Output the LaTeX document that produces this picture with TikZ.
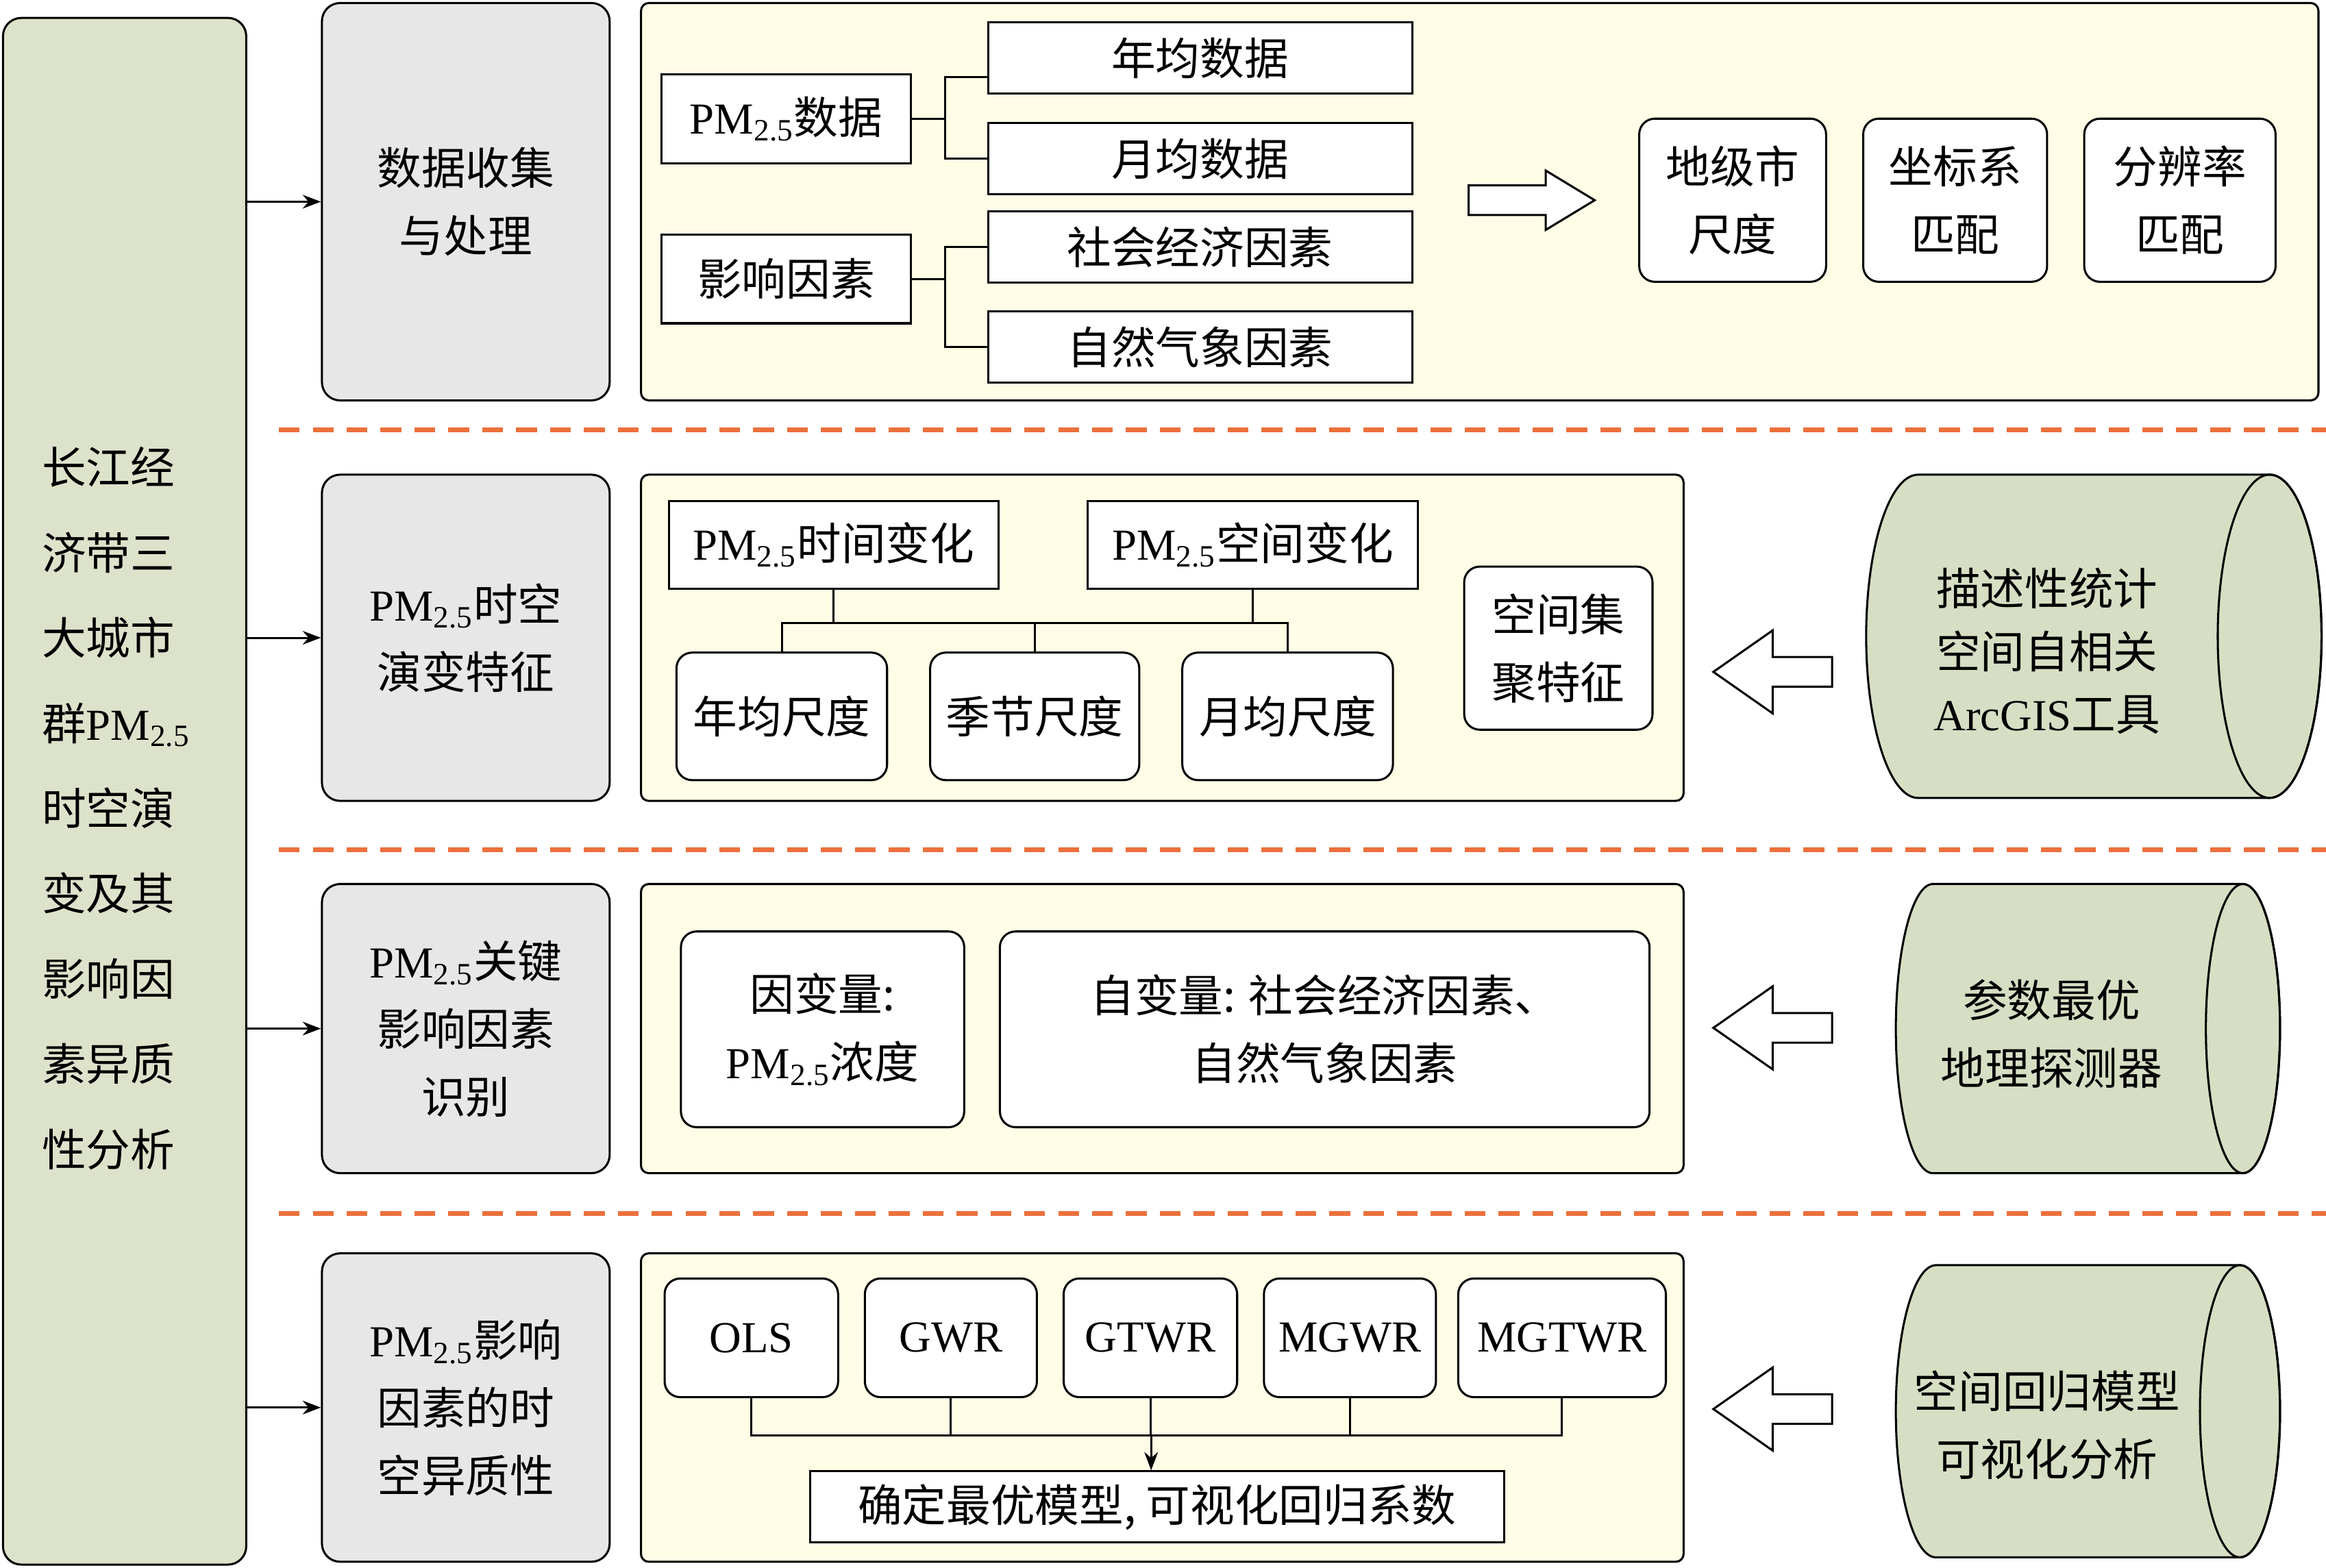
\documentclass[tikz,border=0pt]{standalone}
\usepackage{fontspec}
\setmainfont{Noto Sans CJK SC}
\newfontfamily\lat{Liberation Serif}
\usetikzlibrary{arrows.meta}
\definecolor{leftfill}{RGB}{221,226,203}
\definecolor{grayfill}{RGB}{231,231,231}
\definecolor{panelfill}{RGB}{255,253,230}
\definecolor{cylfill}{RGB}{214,222,196}
\definecolor{dashcol}{RGB}{236,112,60}
\newcommand\PM{{\lat PM\textsubscript{2.5}}}

\tikzset{
  base/.style={draw, line width=0.8pt, inner sep=0pt, align=center,
    font=\fontsize{17}{26}\selectfont},
  gbox/.style={base, fill=grayfill, rounded corners=7pt},
  panel/.style={base, fill=panelfill, rounded corners=3pt},
  sbox/.style={base, fill=white},
  rbox/.style={base, fill=white, rounded corners=6pt},
  sep/.style={dashcol, line width=1.8pt, dash pattern=on 8pt off 5pt},
  hollow/.style={draw, line width=0.8pt, fill=white, line join=miter},
}

\begin{document}
\begin{tikzpicture}[x=0.02cm, y=-0.02cm]
\useasboundingbox (0,0) rectangle (1568,1057);

% left column
\node[gbox, fill=leftfill, minimum width=3.28cm, minimum height=20.86cm] (lb) at (84,533.5) {};
\node[anchor=west, align=left, font=\fontsize{17}{32.7}\selectfont] (lt) at (22,545)
  {长江经\\济带三\\大城市\\群\PM\\时空演\\变及其\\影响因\\素异质\\性分析};

% step boxes
\node[gbox, minimum width=3.88cm, minimum height=5.36cm] (g1) at (314,136) {数据收集\\与处理};
\node[gbox, minimum width=3.88cm, minimum height=4.4cm] (g2) at (314,430) {\PM 时空\\演变特征};
\node[gbox, minimum width=3.88cm, minimum height=3.9cm] (g3) at (314,693.5) {\PM 关键\\影响因素\\识别};
\node[gbox, minimum width=3.88cm, minimum height=4.16cm] (g4) at (314,949) {\PM 影响\\因素的时\\空异质性};

\foreach \g in {g1,g2,g3,g4}
  \draw[-{Stealth[length=7pt]}, line width=0.8pt] (lb.east |- \g.west) -- (\g.west);

% separators
\foreach \yy in {290,573,818}
  \draw[sep] (188,\yy) -- (1568,\yy);

% panels
\node[panel, minimum width=22.62cm, minimum height=5.36cm] (p1) at (997.5,136) {};
\node[panel, minimum width=14.06cm, minimum height=4.4cm] (p2) at (783.5,430) {};
\node[panel, minimum width=14.06cm, minimum height=3.9cm] (p3) at (783.5,693.5) {};
\node[panel, minimum width=14.06cm, minimum height=4.16cm] (p4) at (783.5,949) {};

% panel 1
\node[sbox, minimum width=3.36cm, minimum height=1.2cm] (pm) at (530,80) {\PM 数据};
\node[sbox, minimum width=3.36cm, minimum height=1.2cm] (fac) at (530,188) {影响因素};
\node[sbox, minimum width=5.72cm, minimum height=0.96cm] (d1) at (809,39) {年均数据};
\node[sbox, minimum width=5.72cm, minimum height=0.96cm] (d2) at (809,107) {月均数据};
\node[sbox, minimum width=5.72cm, minimum height=0.96cm] (d3) at (809,166.5) {社会经济因素};
\node[sbox, minimum width=5.72cm, minimum height=0.96cm] (d4) at (809,234) {自然气象因素};
\coordinate (b1) at (637,80);
\coordinate (b2) at (637,188);
\draw[line width=0.8pt] (pm.east) -- (b1);
\draw[line width=0.8pt] ([yshift=-0.26cm]d1.west) -| (b1) |- (d2.west);
\draw[line width=0.8pt] (fac.east) -- (b2);
\draw[line width=0.8pt] (d3.west) -| (b2) |- (d4.west);

\draw[hollow] (990,125) -- (1042,125) -- (1042,115) -- (1075,135) -- (1042,155)
  -- (1042,145) -- (990,145) -- cycle;

\node[rbox, minimum width=2.52cm, minimum height=2.2cm] (m1) at (1168,135) {地级市\\尺度};
\node[rbox, minimum width=2.48cm, minimum height=2.2cm] (m2) at (1318,135) {坐标系\\匹配};
\node[rbox, minimum width=2.58cm, minimum height=2.2cm] (m3) at (1469.5,135) {分辨率\\匹配};

% panel 2
\node[sbox, minimum width=4.44cm, minimum height=1.18cm] (tv) at (562,367.5) {\PM 时间变化};
\node[sbox, minimum width=4.46cm, minimum height=1.18cm] (sv) at (844.5,367.5) {\PM 空间变化};
\node[rbox, minimum width=2.84cm, minimum height=1.72cm] (c1) at (527,483) {年均尺度};
\node[rbox, minimum width=2.82cm, minimum height=1.72cm] (c2) at (697.5,483) {季节尺度};
\node[rbox, minimum width=2.84cm, minimum height=1.72cm] (c3) at (868,483) {月均尺度};
\node[rbox, minimum width=2.54cm, minimum height=2.2cm] (cl) at (1050.5,437) {空间集\\聚特征};
\coordinate (j1) at (562,420);
\draw[line width=0.8pt] (tv.south) -- (j1);
\draw[line width=0.8pt] (sv.south) -- (sv.south |- j1);
\draw[line width=0.8pt] (c1.north) |- (c3.north |- j1) -- (c3.north);
\draw[line width=0.8pt] (c2.north) -- (c2.north |- j1);

% panel 3
\node[rbox, minimum width=3.82cm, minimum height=2.64cm] (dep) at (554.5,694) {因变量:\\\PM 浓度};
\node[rbox, minimum width=8.76cm, minimum height=2.64cm] (ind) at (893,694) {自变量: 社会经济因素、\\自然气象因素};

% panel 4
\node[rbox, minimum width=2.34cm, minimum height=1.6cm, font=\fontsize{17}{20}\lat] (ols) at (506.5,902) {OLS};
\node[rbox, minimum width=2.32cm, minimum height=1.6cm, font=\fontsize{17}{20}\lat] (gwr) at (641,902) {GWR};
\node[rbox, minimum width=2.34cm, minimum height=1.6cm, font=\fontsize{17}{20}\lat] (gtwr) at (775.5,902) {GTWR};
\node[rbox, minimum width=2.32cm, minimum height=1.6cm, font=\fontsize{17}{20}\lat] (mgwr) at (910,902) {MGWR};
\node[rbox, minimum width=2.8cm, minimum height=1.6cm, font=\fontsize{17}{20}\lat] (mgtwr) at (1053,902) {MGTWR};
\node[sbox, minimum width=9.36cm, minimum height=0.96cm] (best) at (780,1016) {确定最优模型, 可视化回归系数};
\coordinate (j2) at (776,968);
\draw[line width=0.8pt] (ols.south) |- (mgtwr.south |- j2) -- (mgtwr.south);
\foreach \m in {gwr,mgwr}
  \draw[line width=0.8pt] (\m.south) -- (\m.south |- j2);
\draw[line width=0.8pt] (gtwr.south) -- (gtwr.south |- j2);
\draw[-{Stealth[length=7pt]}, line width=0.8pt] (j2) -- (j2 |- best.north);

% hollow left arrows
\foreach \yy in {453,693,950}
  \draw[hollow] (1235,\yy-10) -- (1195,\yy-10) -- (1195,\yy-28) -- (1155,\yy)
    -- (1195,\yy+28) -- (1195,\yy+10) -- (1235,\yy+10) -- cycle;

% cylinders
\filldraw[fill=cylfill, line width=0.8pt] (1293,320) -- (1530,320) arc[start angle=90, end angle=-90, x radius=0.7cm, y radius=2.18cm]
  -- (1293,538) arc[start angle=270, end angle=90, x radius=0.7cm, y radius=2.18cm] -- cycle;
\draw[line width=0.8pt] (1530,429) ellipse[x radius=0.7cm, y radius=2.18cm];
\node[align=center, font=\fontsize{17}{24}\selectfont] (t1) at (1380,439) {描述性统计\\空间自相关\\{\lat ArcGIS}工具};

\filldraw[fill=cylfill, line width=0.8pt] (1303,596) -- (1512,596) arc[start angle=90, end angle=-90, x radius=0.5cm, y radius=1.95cm]
  -- (1303,791) arc[start angle=270, end angle=90, x radius=0.5cm, y radius=1.95cm] -- cycle;
\draw[line width=0.8pt] (1512,693.5) ellipse[x radius=0.5cm, y radius=1.95cm];
\node[align=center, font=\fontsize{17}{26}\selectfont] (t2) at (1383,697) {参数最优\\地理探测器};

\filldraw[fill=cylfill, line width=0.8pt] (1305,853) -- (1510,853) arc[start angle=90, end angle=-90, x radius=0.54cm, y radius=1.97cm]
  -- (1305,1050) arc[start angle=270, end angle=90, x radius=0.54cm, y radius=1.97cm] -- cycle;
\draw[line width=0.8pt] (1510,951.5) ellipse[x radius=0.54cm, y radius=1.97cm];
\node[align=center, font=\fontsize{17}{26}\selectfont] (t3) at (1380,961) {空间回归模型\\可视化分析};
\end{tikzpicture}
\end{document}
